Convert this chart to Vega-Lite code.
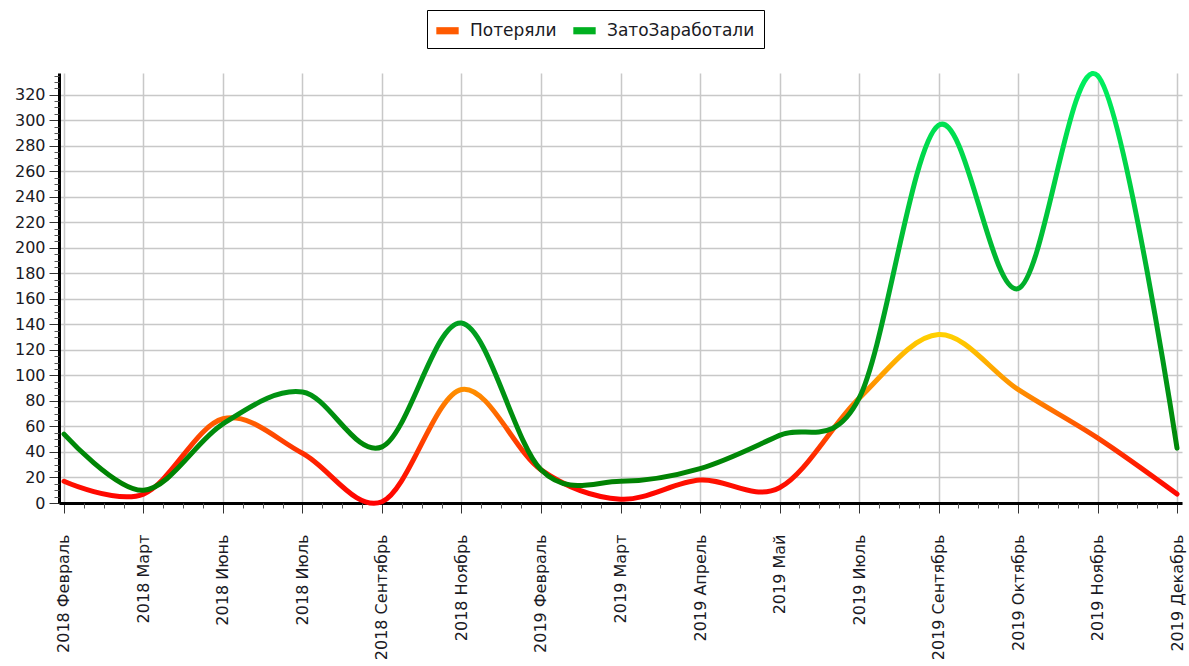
{
  "$schema": "https://vega.github.io/schema/vega-lite/v6.json",
  "width": 1123,
  "height": 430,
  "padding": {"left": 14, "top": 9, "right": 0, "bottom": 0},
  "background": "white",
  "config": {
    "view": {"stroke": null},
    "font": "DejaVu Sans"
  },
  "data": {
    "values": [
      {"month": "2018 Февраль", "i": 0, "series": "Потеряли", "value": 17},
      {"month": "2018 Март", "i": 1, "series": "Потеряли", "value": 7},
      {"month": "2018 Июнь", "i": 2, "series": "Потеряли", "value": 66},
      {"month": "2018 Июль", "i": 3, "series": "Потеряли", "value": 39},
      {"month": "2018 Сентябрь", "i": 4, "series": "Потеряли", "value": 1},
      {"month": "2018 Ноябрь", "i": 5, "series": "Потеряли", "value": 89},
      {"month": "2019 Февраль", "i": 6, "series": "Потеряли", "value": 26},
      {"month": "2019 Март", "i": 7, "series": "Потеряли", "value": 3},
      {"month": "2019 Апрель", "i": 8, "series": "Потеряли", "value": 18},
      {"month": "2019 Май", "i": 9, "series": "Потеряли", "value": 12},
      {"month": "2019 Июль", "i": 10, "series": "Потеряли", "value": 82},
      {"month": "2019 Сентябрь", "i": 11, "series": "Потеряли", "value": 132},
      {"month": "2019 Октябрь", "i": 12, "series": "Потеряли", "value": 89},
      {"month": "2019 Ноябрь", "i": 13, "series": "Потеряли", "value": 51},
      {"month": "2019 Декабрь", "i": 14, "series": "Потеряли", "value": 7},
      {"month": "2018 Февраль", "i": 0, "series": "ЗатоЗаработали", "value": 54},
      {"month": "2018 Март", "i": 1, "series": "ЗатоЗаработали", "value": 10},
      {"month": "2018 Июнь", "i": 2, "series": "ЗатоЗаработали", "value": 62},
      {"month": "2018 Июль", "i": 3, "series": "ЗатоЗаработали", "value": 87},
      {"month": "2018 Сентябрь", "i": 4, "series": "ЗатоЗаработали", "value": 44},
      {"month": "2018 Ноябрь", "i": 5, "series": "ЗатоЗаработали", "value": 141},
      {"month": "2019 Февраль", "i": 6, "series": "ЗатоЗаработали", "value": 26},
      {"month": "2019 Март", "i": 7, "series": "ЗатоЗаработали", "value": 17},
      {"month": "2019 Апрель", "i": 8, "series": "ЗатоЗаработали", "value": 27},
      {"month": "2019 Май", "i": 9, "series": "ЗатоЗаработали", "value": 53},
      {"month": "2019 Июль", "i": 10, "series": "ЗатоЗаработали", "value": 82},
      {"month": "2019 Сентябрь", "i": 11, "series": "ЗатоЗаработали", "value": 296},
      {"month": "2019 Октябрь", "i": 12, "series": "ЗатоЗаработали", "value": 168},
      {"month": "2019 Ноябрь", "i": 13, "series": "ЗатоЗаработали", "value": 335},
      {"month": "2019 Декабрь", "i": 14, "series": "ЗатоЗаработали", "value": 43}
    ]
  },
  "layer": [
    {
      "encoding": {
        "x": {
          "field": "month",
          "type": "ordinal",
          "sort": null,
          "scale": {"type": "point", "padding": 0.0628},
          "axis": {
            "title": null,
            "labelAngle": -90,
            "labelFont": "DejaVu Sans",
            "labelFontSize": 16,
            "labelColor": "#1a1a24",
            "labelPadding": 21,
            "tickSize": 10,
            "tickColor": "#333333",
            "tickWidth": 1,
            "domainColor": "#000000",
            "domainWidth": 3,
            "grid": true,
            "gridColor": "#c8c8c8",
            "gridWidth": 1.5
          }
        },
        "y": {
          "field": "value",
          "type": "quantitative",
          "scale": {"domain": [0, 337], "nice": false, "zero": false},
          "axis": {
            "title": null,
            "values": [0, 20, 40, 60, 80, 100, 120, 140, 160, 180, 200, 220, 240, 260, 280, 300, 320],
            "labelFont": "DejaVu Sans",
            "labelFontSize": 16,
            "labelColor": "#1a1a24",
            "labelPadding": 4,
            "tickSize": 10,
            "tickColor": "#333333",
            "tickWidth": 1,
            "domainColor": "#000000",
            "domainWidth": 3,
            "grid": true,
            "gridColor": "#c8c8c8",
            "gridWidth": 1.5
          }
        }
      },
      "layer": [
        {
          "transform": [{"filter": "datum.series === 'Потеряли'"}],
          "mark": {
            "type": "line",
            "interpolate": "cardinal",
            "strokeWidth": 5,
            "strokeCap": "round",
            "stroke": {
              "gradient": "linear",
              "x1": 0, "y1": 1, "x2": 0, "y2": 0,
              "stops": [
                {"offset": 0, "color": "#ff0000"},
                {"offset": 0.25, "color": "#ff2200"},
                {"offset": 0.65, "color": "#ff8a00"},
                {"offset": 1, "color": "#ffd000"}
              ]
            }
          }
        },
        {
          "transform": [{"filter": "datum.series === 'ЗатоЗаработали'"}],
          "mark": {
            "type": "line",
            "interpolate": "cardinal",
            "strokeWidth": 5,
            "strokeCap": "round",
            "stroke": {
              "gradient": "linear",
              "x1": 0, "y1": 1, "x2": 0, "y2": 0,
              "stops": [
                {"offset": 0, "color": "#008000"},
                {"offset": 0.4, "color": "#00a020"},
                {"offset": 0.7, "color": "#00cc40"},
                {"offset": 1, "color": "#00f060"}
              ]
            }
          }
        }
      ]
    },
    {
      "mark": {"type": "point", "opacity": 0, "filled": true},
      "encoding": {
        "x": {
          "field": "i",
          "type": "quantitative",
          "scale": {"domain": [-0.0628, 14.0628], "nice": false, "zero": false},
          "axis": {
            "orient": "bottom",
            "title": null,
            "values": [0.25, 0.5, 0.75, 1.25, 1.5, 1.75, 2.25, 2.5, 2.75, 3.25, 3.5, 3.75, 4.25, 4.5, 4.75, 5.25, 5.5, 5.75, 6.25, 6.5, 6.75, 7.25, 7.5, 7.75, 8.25, 8.5, 8.75, 9.25, 9.5, 9.75, 10.25, 10.5, 10.75, 11.25, 11.5, 11.75, 12.25, 12.5, 12.75, 13.25, 13.5, 13.75],
            "labels": false,
            "grid": false,
            "domain": false,
            "tickSize": 5,
            "tickColor": "#555555",
            "tickWidth": 1
          }
        },
        "y": {
          "field": "value",
          "type": "quantitative",
          "scale": {"domain": [0, 337], "nice": false, "zero": false},
          "axis": {
            "orient": "left",
            "title": null,
            "values": [5, 10, 15, 25, 30, 35, 45, 50, 55, 65, 70, 75, 85, 90, 95, 105, 110, 115, 125, 130, 135, 145, 150, 155, 165, 170, 175, 185, 190, 195, 205, 210, 215, 225, 230, 235, 245, 250, 255, 265, 270, 275, 285, 290, 295, 305, 310, 315, 325, 330, 335],
            "labels": false,
            "grid": false,
            "domain": false,
            "tickSize": 5,
            "tickColor": "#555555",
            "tickWidth": 1
          }
        },
        "color": {
          "field": "series",
          "type": "nominal",
          "scale": {"domain": ["Потеряли", "ЗатоЗаработали"], "range": ["#ff5a00", "#00b020"]},
          "legend": {
            "title": null,
            "orient": "none",
            "direction": "horizontal",
            "legendX": 368,
            "legendY": -63,
            "strokeColor": "#000000",
            "fillColor": "#ffffff",
            "padding": 9,
            "columnPadding": 16,
            "labelFont": "DejaVu Sans",
            "labelFontSize": 17,
            "labelColor": "#1a1a24",
            "labelOffset": 11,
            "symbolType": "M-1,-0.32L1,-0.32L1,0.32L-1,0.32Z",
            "symbolSize": 500,
            "symbolOpacity": 1,
            "symbolStrokeWidth": 0
          }
        }
      }
    }
  ],
  "resolve": {
    "scale": {"x": "independent", "y": "independent"},
    "axis": {"x": "independent", "y": "independent"}
  }
}
